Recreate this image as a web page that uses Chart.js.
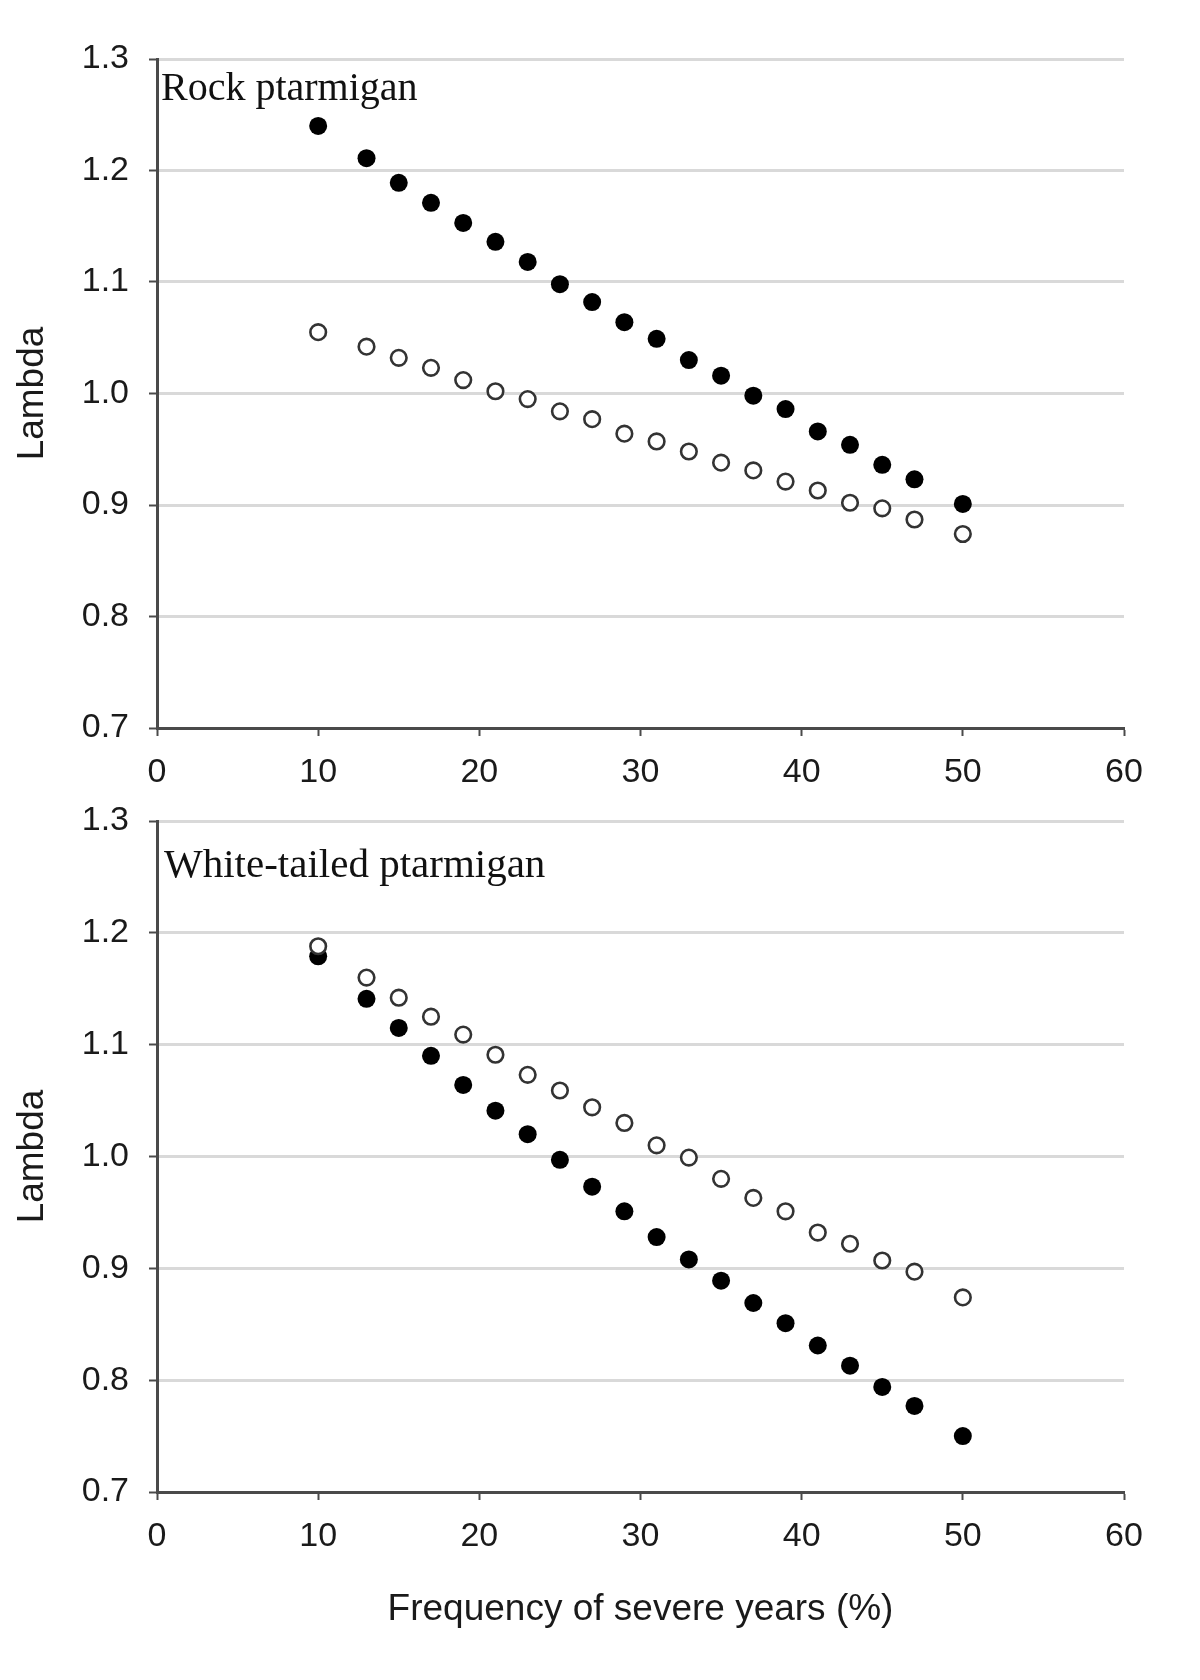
<!DOCTYPE html>
<html>
<head>
<meta charset="utf-8">
<script src="https://cdn.jsdelivr.net/npm/chart.js@4"></script>
<style>
    body { margin: 0; background: #fff; }
    #wrap { position: relative; width: 1200px; height: 1680px; background: #fff; }
    canvas { position: absolute; left: 0; }
    #rock { top: 0; }
    #white { top: 780px; }
</style>
</head>
<body>
<div id="wrap">
    <canvas id="rock" width="1200" height="800"></canvas>
    <canvas id="white" width="1200" height="900"></canvas>
</div>
<script>
// Frequency of severe years (%)
const freq = [10, 13, 15, 17, 19, 21, 23, 25, 27, 29, 31, 33, 35, 37, 39, 41, 43, 45, 47, 50];

// Rock ptarmigan
const rockFilled = [1.240, 1.211, 1.189, 1.171, 1.153, 1.136, 1.118, 1.098, 1.082, 1.064,
                    1.049, 1.030, 1.016, 0.998, 0.986, 0.966, 0.954, 0.936, 0.923, 0.901];
const rockOpen = [1.055, 1.042, 1.032, 1.023, 1.012, 1.002, 0.995, 0.984, 0.977, 0.964,
                  0.957, 0.948, 0.938, 0.931, 0.921, 0.913, 0.902, 0.897, 0.887, 0.874];

// White-tailed ptarmigan
const whiteFilled = [1.179, 1.141, 1.115, 1.090, 1.064, 1.041, 1.020, 0.997, 0.973, 0.951,
                     0.928, 0.908, 0.889, 0.869, 0.851, 0.831, 0.813, 0.794, 0.777, 0.750];
const whiteOpen = [1.188, 1.160, 1.142, 1.125, 1.109, 1.091, 1.073, 1.059, 1.044, 1.030,
                   1.010, 0.999, 0.980, 0.963, 0.951, 0.932, 0.922, 0.907, 0.897, 0.874];

const xTicks = [0, 10, 20, 30, 40, 50, 60];
const yTicks = [0.7, 0.8, 0.9, 1.0, 1.1, 1.2, 1.3];

const tickFont = { family: '"Liberation Sans", Arial, sans-serif', size: 34 };
const titleFont = { family: '"Liberation Sans", Arial, sans-serif', size: 37 };
const axisColor = '#4a4a4a';

// Species name written inside the plot area
const panelLabel = {
    id: 'panelLabel',
    afterDraw(chart, args, opts) {
        const { ctx, chartArea } = chart;
        ctx.save();
        ctx.font = opts.size + 'px "Liberation Serif", "Times New Roman", serif';
        ctx.fillStyle = '#111';
        ctx.textBaseline = 'alphabetic';
        ctx.fillText(opts.text, chartArea.left + opts.dx, chartArea.top + opts.dy);
        ctx.restore();
    }
};

const toPoints = (ys) => freq.map((x, i) => ({ x: x, y: ys[i] }));

const makeChart = (id, filled, open, label, opts) => {
    new Chart(document.getElementById(id), {
        type: 'scatter',
        data: {
            datasets: [
                {
                    label: 'open',
                    data: toPoints(open),
                    pointRadius: 7.8,
                    pointBorderWidth: 2.6,
                    backgroundColor: '#fff',
                    borderColor: '#333'
                },
                {
                    label: 'filled',
                    data: toPoints(filled),
                    pointRadius: 9,
                    pointBorderWidth: 0,
                    backgroundColor: '#000',
                    borderColor: '#000'
                }
            ]
        },
        options: {
            responsive: false,
            animation: false,
            layout: { padding: { top: opts.padTop, right: 76, left: 0, bottom: 0 } },
            plugins: {
                legend: { display: false },
                tooltip: { enabled: false },
                panelLabel: { text: label, dx: opts.labelDx, dy: opts.labelDy, size: opts.labelSize }
            },
            scales: {
                x: {
                    type: 'linear',
                    min: 0,
                    max: 60,
                    afterBuildTicks: (scale) => { scale.ticks = xTicks.map(v => ({ value: v })); },
                    afterFit: (scale) => { scale.height = opts.xHeight; },
                    border: { color: axisColor, width: 3 },
                    grid: { drawOnChartArea: false, tickColor: axisColor, tickLength: 8, tickWidth: 2 },
                    ticks: { font: tickFont, color: '#1a1a1a', padding: 16, maxRotation: 0 },
                    title: {
                        display: opts.xTitle,
                        text: 'Frequency of severe years (%)',
                        font: titleFont,
                        color: '#1a1a1a',
                        padding: { top: 0, bottom: 48 }
                    }
                },
                y: {
                    type: 'linear',
                    min: 0.7,
                    max: 1.3,
                    afterBuildTicks: (scale) => { scale.ticks = yTicks.map(v => ({ value: v })); },
                    afterFit: (scale) => { scale.width = 157; },
                    border: { color: axisColor, width: 3 },
                    grid: { color: '#d9d9d9', lineWidth: 3, tickColor: axisColor, tickLength: 8, tickWidth: 2 },
                    ticks: {
                        font: tickFont,
                        color: '#1a1a1a',
                        padding: 20,
                        callback: (v) => Number(v).toFixed(1)
                    },
                    title: {
                        display: true,
                        text: 'Lambda',
                        font: titleFont,
                        color: '#1a1a1a',
                        padding: { top: 11, bottom: 0 }
                    }
                }
            }
        },
        plugins: [panelLabel]
    });
};

makeChart('rock', rockFilled, rockOpen, 'Rock ptarmigan',
    { padTop: 59, xHeight: 72, xTitle: false, labelDx: 4, labelDy: 41, labelSize: 40 });
makeChart('white', whiteFilled, whiteOpen, 'White-tailed ptarmigan',
    { padTop: 41, xHeight: 188, xTitle: true, labelDx: 7, labelDy: 56, labelSize: 41 });
</script>
</body>
</html>
